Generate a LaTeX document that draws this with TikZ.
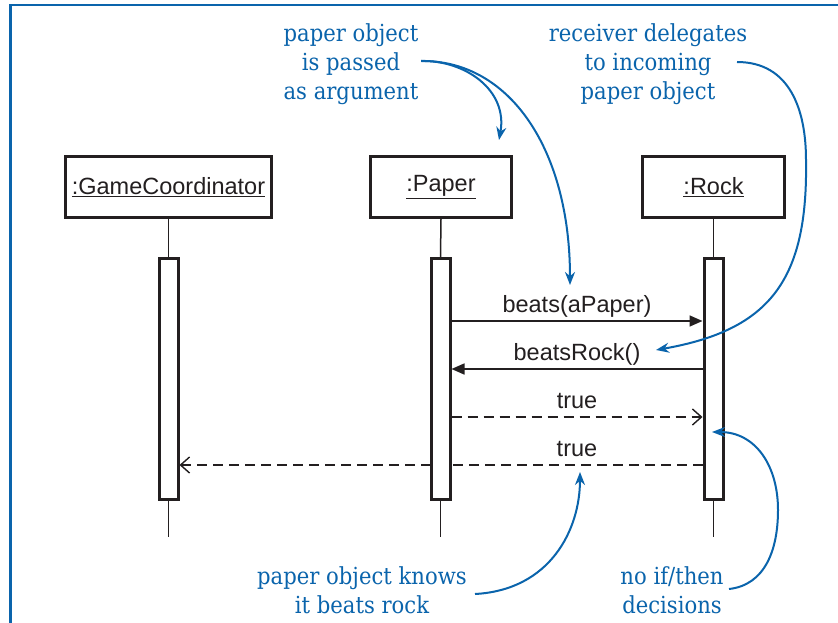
\documentclass[tikz,border=0pt]{standalone}
\usepackage{fontspec}
\usetikzlibrary{arrows.meta,calc}
\newfontfamily\umlfont{Liberation Sans}
\newfontfamily\notefont[FakeStretch=0.9]{DejaVu Serif}
\definecolor{ink}{RGB}{35,31,32}
\definecolor{notecol}{RGB}{10,100,172}
\pgfdeclarelayer{background}
\pgfsetlayers{background,main}
\begin{document}
\begin{tikzpicture}[x=1pt,y=-1pt,
  lifebox/.style={draw=ink, line width=3pt, fill=white, minimum width=#1, minimum height=61pt, inner sep=0pt,
    font=\umlfont\fontsize{23.5}{28}\selectfont, text=ink},
  actbar/.style={draw=ink, line width=3pt, fill=white, minimum width=19pt, minimum height=241pt, inner sep=0pt},
  lifeline/.style={draw=ink, line width=1.5pt},
  callmsg/.style={draw=ink, line width=1.6pt, -{Triangle[length=13pt,width=11pt]}},
  retmsg/.style={draw=ink, line width=1.6pt, dash pattern=on 10pt off 6pt, -{Straight Barb[length=9pt,width=16pt,line width=1.4pt]}},
  msglabel/.style={font=\umlfont\fontsize{23.5}{28}\selectfont, text=ink, anchor=base, inner sep=0pt, yshift=9pt},
  notetext/.style={text=notecol, font=\notefont\fontsize{23.5}{29}\selectfont, align=center, inner sep=0pt},
  notearrow/.style={draw=notecol, line width=2pt, -{Stealth[length=13pt,width=10pt]}}
]
\useasboundingbox (0,0) rectangle (838,623);
\begin{pgfonlayer}{background}
\fill[white] (0,0) rectangle (838,623);
\end{pgfonlayer}
\draw[notecol, line width=2.5pt] (10.7,623) -- (10.7,5) -- (838,5);

% lifeline heads
\node[lifebox=206pt] (gc) at (168.5,187) {\underline{:GameCoordinator}};
\node[lifebox=141pt] (paper) at (441,187) {\underline{:Paper}};
\node[lifebox=142pt] (rock) at (713.5,187) {\underline{:Rock}};

% activation bars
\node[actbar] (gcA) at (168.5,379) {};
\node[actbar] (paperA) at (440.5,379) {};
\node[actbar] (rockA) at (713.5,379) {};

\coordinate (gcEnd) at (168.5,537);
\coordinate (paperEnd) at (440.5,537);
\coordinate (rockEnd) at (713.5,537);

\begin{pgfonlayer}{background}
\draw[lifeline] (gc.south) -- (gcA.north);
\draw[lifeline] (paper.south) -- (paperA.north);
\draw[lifeline] (rock.south) -- (rockA.north);
\draw[lifeline] (gcA.south) -- (gcEnd);
\draw[lifeline] (paperA.south) -- (paperEnd);
\draw[lifeline] (rockA.south) -- (rockEnd);
\draw[retmsg] (rockA.west |- 0,465) -- (gcA.east |- 0,465)
  node[msglabel, pos=0.24] {true};
\end{pgfonlayer}

% messages
\draw[callmsg] (paperA.east |- 0,321) -- (rockA.west |- 0,321)
  node[msglabel, midway] {beats(aPaper)};
\draw[callmsg] (rockA.west |- 0,369) -- (paperA.east |- 0,369)
  node[msglabel, midway] {beatsRock()};
\draw[retmsg] (paperA.east |- 0,417) -- (rockA.west |- 0,417)
  node[msglabel, midway] {true};

% notes
\node[notetext] (n1) at (351,64) {paper object\\is passed\\as argument};
\node[notetext] (n2) at (648,64) {receiver delegates\\to incoming\\paper object};
\node[notetext] (n3) at (362,590) {paper object knows\\it beats rock};
\node[notetext] (n4) at (672,590) {no if/then\\decisions};

\coordinate (s1) at (421,61);
\coordinate (t1) at (499,140);
\coordinate (t2) at (570,285);
\coordinate (s3) at (737,62);
\coordinate (t3) at (656,350);
\coordinate (s4) at (475,594);
\coordinate (t4) at (580,472);
\coordinate (s5) at (729,589);
\coordinate (t5) at (712,432);

\draw[notearrow] (s1) .. controls (465,60) and (508,90) .. (t1);
\draw[notearrow] (s1) .. controls (510,60) and (570,150) .. (t2);
\draw[notearrow] (s3) .. controls (790,62) and (806,110) .. (806,160)
  .. controls (808,280) and (770,330) .. (t3);
\draw[notearrow] (s4) .. controls (550,590) and (580,530) .. (t4);
\draw[notearrow] (s5) .. controls (765,585) and (778,550) .. (778,510)
  .. controls (778,465) and (755,432) .. (t5);
\end{tikzpicture}
\end{document}
